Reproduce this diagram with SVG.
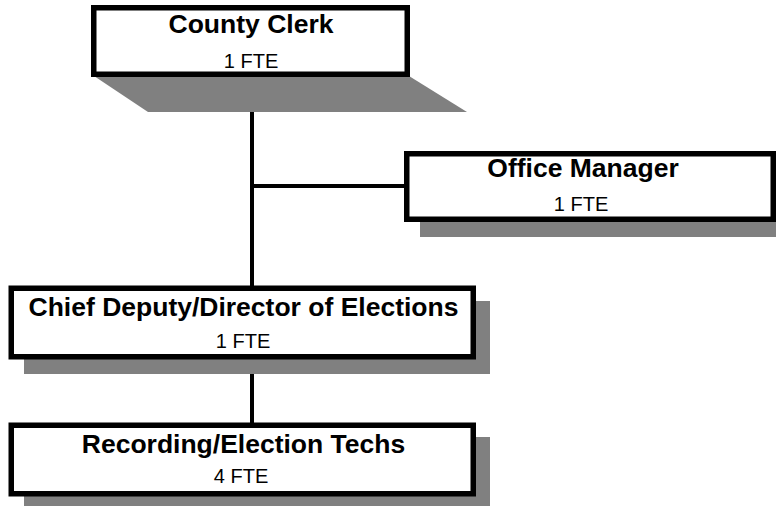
<svg xmlns="http://www.w3.org/2000/svg" width="776" height="506" viewBox="0 0 776 506">
  <style>
    .box { fill: #ffffff; stroke: #000000; stroke-width: 5.5; }
    .shadow { fill: #808080; stroke: none; }
    .conn { stroke: #000000; stroke-width: 4; fill: none; }
    .title { font-family: "Liberation Sans", Arial, sans-serif; font-weight: bold; font-size: 26.5px; fill: #000; text-anchor: middle; }
    .sub { font-family: "Liberation Sans", Arial, sans-serif; font-size: 20px; fill: #000; text-anchor: middle; }
  </style>
  <rect width="776" height="506" fill="#ffffff"/>
  <g id="connectors">
    <line class="conn" x1="252" y1="110" x2="252" y2="288"/>
    <line class="conn" x1="252" y1="186" x2="406" y2="186"/>
    <line class="conn" x1="252" y1="357" x2="252" y2="425"/>
  </g>
  <g id="county-clerk">
    <polygon class="shadow" points="94,76 409,76 467,112 148,112"/>
    <rect class="box" x="93.75" y="7.75" width="313.5" height="66.5"/>
    <text class="title" x="251" y="33">County Clerk</text>
    <text class="sub" x="251" y="68">1 FTE</text>
  </g>
  <g id="office-manager">
    <rect class="shadow" x="420" y="166" width="360" height="71"/>
    <rect class="box" x="406.75" y="153.75" width="366.5" height="65.5"/>
    <text class="title" x="583" y="177">Office Manager</text>
    <text class="sub" x="581" y="210.5">1 FTE</text>
  </g>
  <g id="chief-deputy">
    <rect class="shadow" x="24" y="301" width="466" height="73"/>
    <rect class="box" x="11.25" y="288.25" width="462" height="68.5"/>
    <text class="title" x="243.5" y="316">Chief Deputy/Director of Elections</text>
    <text class="sub" x="243" y="348">1 FTE</text>
  </g>
  <g id="recording-techs">
    <rect class="shadow" x="24" y="437" width="466" height="73"/>
    <rect class="box" x="11.25" y="425.25" width="462" height="68.5"/>
    <text class="title" x="243.5" y="452.5">Recording/Election Techs</text>
    <text class="sub" x="241" y="482.5">4 FTE</text>
  </g>
</svg>
